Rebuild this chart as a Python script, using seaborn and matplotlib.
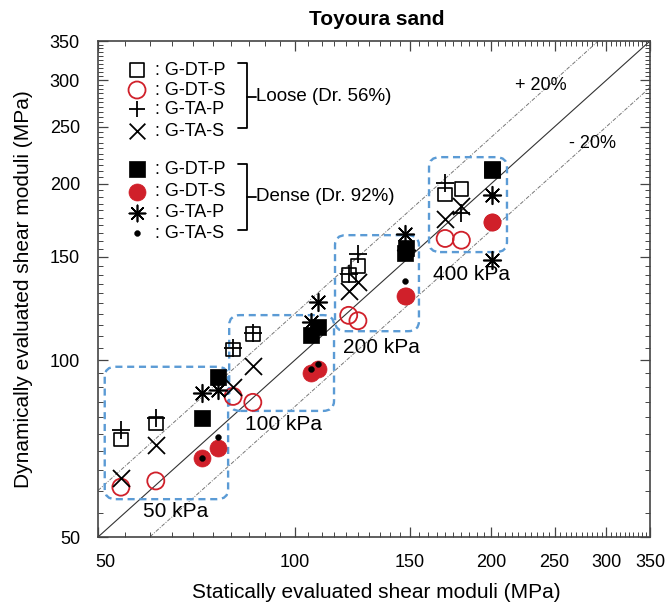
import matplotlib
matplotlib.use("Agg")
import numpy as np
import pandas as pd
import matplotlib.pyplot as plt
from matplotlib.patches import FancyBboxPatch
from matplotlib.lines import Line2D
from matplotlib.ticker import FixedLocator, NullLocator, MultipleLocator, FixedFormatter, NullFormatter
from matplotlib.transforms import ScaledTranslation
import seaborn as sns

sns.set_theme(style="white")
plt.rcParams.update({
    "font.family": ["Liberation Sans", "DejaVu Sans"],
    "text.color": "black",
    "axes.labelcolor": "black",
})

# ---- shear moduli, statically (x) vs dynamically (y) evaluated, MPa ----
# Loose specimens (Dr. 56%): 50, 100, 200, 400 kPa, two tests each
loose_static = [54.2, 61.3, 80.5, 86.3, 121.0, 125.0, 170.0, 180.0]
loose_dt_p = [73.3, 78.0, 104.4, 111.0, 139.7, 144.7, 191.6, 195.8]
loose_dt_s = [60.8, 62.3, 86.8, 84.8, 119.3, 116.8, 161.3, 160.2]
loose_ta_p = [76.0, 79.6, 104.8, 111.4, 140.5, 152.0, 200.7, 178.3]
loose_ta_s = [63.1, 71.7, 89.9, 97.9, 131.2, 135.8, 173.8, 183.0]

# Dense specimens (Dr. 92%)
dense_static = [72.1, 76.3, 106.0, 108.6, 147.6, 148.0, 200.3, 200.3]
dense_dt_p = [79.9, 93.7, 110.6, 113.9, 152.3, 155.6, 211.0, 212.0]
dense_dt_s = [68.1, 70.8, 95.1, 96.6, 128.7, 128.9, 171.9, 172.1]
dense_ta_p = [88.0, 88.9, 116.0, 125.7, 164.0, 154.0, 191.0, 148.0]
dense_ta_s_static = [72.1, 76.3, 106.0, 108.6, 147.6, 200.3]
dense_ta_s = [68.1, 74.1, 96.5, 98.4, 136.7, 191.0]

pressures = ["50 kPa", "100 kPa", "200 kPa", "400 kPa"]
ticks = [50, 100, 150, 200, 250, 300, 350]

RED = "#d0202a"
BLUE = "#5b9bd5"
FRAME = "#444444"

frames = []
def add(name, xs, ys):
    frames.append(pd.DataFrame({"series": name, "static": xs, "dynamic": ys}))

add("L G-DT-P", loose_static, loose_dt_p)
add("L G-DT-S", loose_static, loose_dt_s)
add("L G-TA-P", loose_static, loose_ta_p)
add("L G-TA-S", loose_static, loose_ta_s)
add("D G-TA-P", dense_static, dense_ta_p)
add("D G-DT-P", dense_static, dense_dt_p)
add("D G-DT-S", dense_static, dense_dt_s)
add("D G-TA-S", dense_ta_s_static, dense_ta_s)
df = pd.concat(frames, ignore_index=True)

ASTER = (8, 2, 0)
styles = {
    "L G-DT-P": dict(marker="s", s=96, facecolor="none", edgecolor="black", color="black", linewidths=1.2),
    "L G-DT-S": dict(marker="o", s=150, facecolor="none", edgecolor=RED, color=RED, linewidths=1.3),
    "L G-TA-P": dict(marker="+", s=150, color="black", linewidths=1.3),
    "L G-TA-S": dict(marker="x", s=150, color="black", linewidths=1.3),
    "D G-TA-P": dict(marker=ASTER, s=160, color="black", linewidths=1.2),
    "D G-DT-P": dict(marker="s", s=118, color="black", edgecolor="black", linewidths=0.5),
    "D G-DT-S": dict(marker="o", s=150, color=RED, edgecolor=RED, linewidths=0.5),
    "D G-TA-S": dict(marker="o", s=18, color="black", edgecolor="black", linewidths=0.3),
}

fig = plt.figure(figsize=(6.7, 6.05), dpi=100)
rect = [98 / 670, 1 - 537 / 605, 552 / 670, 496 / 605]
ax = fig.add_axes(rect)
ax.set_xscale("log")
ax.set_yscale("log")
ax.set_xlim(50, 350)
ax.set_ylim(50, 350)

# 1:1 line and +/-20 % bands
ref = np.array([50, 350])
ax.plot(ref, ref, color="#333333", lw=0.8, zorder=1)
ax.plot(ref, ref * 1.2, color="#777777", lw=0.7, ls=(0, (4, 1.5, 1, 1.5)), zorder=1)
ax.plot(ref, ref / 1.2, color="#777777", lw=0.7, ls=(0, (4, 1.5, 1, 1.5)), zorder=1)

for name, kw in styles.items():
    sub = df[df["series"] == name]
    sns.scatterplot(data=sub, x="static", y="dynamic", ax=ax, legend=False, zorder=3, **kw)

# confining-pressure groups (static range, dynamic range) with their labels
groups = [(51.2, 79.1, 58.0, 97.5), (79.4, 114.9, 82.0, 119.4),
          (115.3, 155.0, 112.1, 163.4), (160.6, 211.4, 152.9, 221.9)]
label_pos = [(65.8, 55.2), (96.0, 77.6), (136.0, 105.3), (186.5, 140.3)]
to_axes = ax.transData + ax.transAxes.inverted()
for (x0, x1, y0, y1), txt, (lx, ly) in zip(groups, pressures, label_pos):
    (ax0, ay0), (ax1, ay1) = to_axes.transform([(x0, y0), (x1, y1)])
    box = FancyBboxPatch((ax0, ay0), ax1 - ax0, ay1 - ay0,
                         boxstyle="round,pad=0,rounding_size=0.02",
                         transform=ax.transAxes, fill=False, edgecolor=BLUE,
                         lw=1.7, ls=(0, (3, 2)), zorder=2)
    ax.add_patch(box)
    ax.text(lx, ly, txt, fontsize=15, ha="center", va="center", zorder=4)

ax.text(238, 294, "+ 20%", fontsize=13, ha="center", va="center")
ax.text(286, 234, "- 20%", fontsize=13, ha="center", va="center")

# frame and tick labels
for sp in ax.spines.values():
    sp.set_color(FRAME)
    sp.set_linewidth(1.2)
for axis in (ax.xaxis, ax.yaxis):
    axis.set_major_locator(FixedLocator(ticks))
    axis.set_major_formatter(FixedFormatter([str(t) for t in ticks]))
    axis.set_minor_locator(NullLocator())
ax.tick_params(which="major", direction="in", length=0, labelsize=13, labelcolor="black")
ax.tick_params(axis="x", which="major", pad=12)
ax.tick_params(axis="y", which="major", pad=13)
first = ax.get_xticklabels()[0]
first.set_transform(first.get_transform() + ScaledTranslation(7 / 100, 0, fig.dpi_scale_trans))

ax.set_xlabel("Statically evaluated shear moduli (MPa)", fontsize=15, color="black")
ax.set_ylabel("Dynamically evaluated shear moduli (MPa)", fontsize=15, color="black")
ax.xaxis.set_label_coords(0.505, -0.093)
ax.yaxis.set_label_coords(-0.118, 0.5)
ax.text(0.5054, 1.044, "Toyoura sand", transform=ax.transAxes, fontsize=15,
        fontweight="bold", ha="center", va="center")

# legend with density brackets
leg_rows = [
    ("L G-DT-P", 0.9415), ("L G-DT-S", 0.9012), ("L G-TA-P", 0.8629), ("L G-TA-S", 0.8185),
    ("D G-DT-P", 0.741), ("D G-DT-S", 0.6956), ("D G-TA-P", 0.6542), ("D G-TA-S", 0.6129),
]
for name, fy in leg_rows:
    kw = dict(styles[name])
    s = kw.pop("s")
    col = kw.pop("color")
    ec = kw.pop("edgecolor", col)
    fc = kw.pop("facecolor", col)
    mk = kw.pop("marker")
    lw = kw.pop("linewidths")
    if mk in ("+", "x") or isinstance(mk, tuple):
        ax.scatter([0.0707], [fy], transform=ax.transAxes, marker=mk, s=s * 0.85,
                   color=ec, linewidths=lw, clip_on=False, zorder=5)
    else:
        ax.scatter([0.0707], [fy], transform=ax.transAxes, marker=mk, s=s,
                   facecolor=fc, edgecolor=ec, linewidths=lw, clip_on=False, zorder=5)
    ax.text(0.1033, fy, ": " + name[2:], transform=ax.transAxes, fontsize=13,
            ha="left", va="center")

for top, bot, mid, txt in [(0.9556, 0.8246, 0.8881, "Loose (Dr. 56%)"),
                           (0.752, 0.619, 0.6861, "Dense (Dr. 92%)")]:
    ax.add_line(Line2D([0.2536, 0.2699, 0.2699, 0.2536], [top, top, bot, bot],
                       transform=ax.transAxes, color="black", lw=1.3))
    ax.add_line(Line2D([0.2699, 0.2862], [mid, mid], transform=ax.transAxes,
                       color="black", lw=1.3))
    ax.text(0.2862, mid, txt, transform=ax.transAxes, fontsize=13.5, ha="left", va="center")

# transparent overlay carrying the inward tick marks on all four sides
tax = fig.add_axes(rect, zorder=10)
tax.set_xscale("log")
tax.set_yscale("log")
tax.set_xlim(50, 350)
tax.set_ylim(50, 350)
tax.patch.set_visible(False)
for sp in tax.spines.values():
    sp.set_visible(False)
for axis in (tax.xaxis, tax.yaxis):
    axis.set_major_locator(FixedLocator(ticks))
    axis.set_major_formatter(NullFormatter())
    axis.set_minor_locator(MultipleLocator(5))
    axis.set_minor_formatter(NullFormatter())
tax.tick_params(which="both", direction="in", bottom=True, top=True, left=True, right=True,
                labelbottom=False, labelleft=False, color=FRAME)
tax.tick_params(which="major", length=7, width=0.9)
tax.tick_params(which="minor", length=3.5, width=0.7)

fig.savefig("out.png", dpi=100)
